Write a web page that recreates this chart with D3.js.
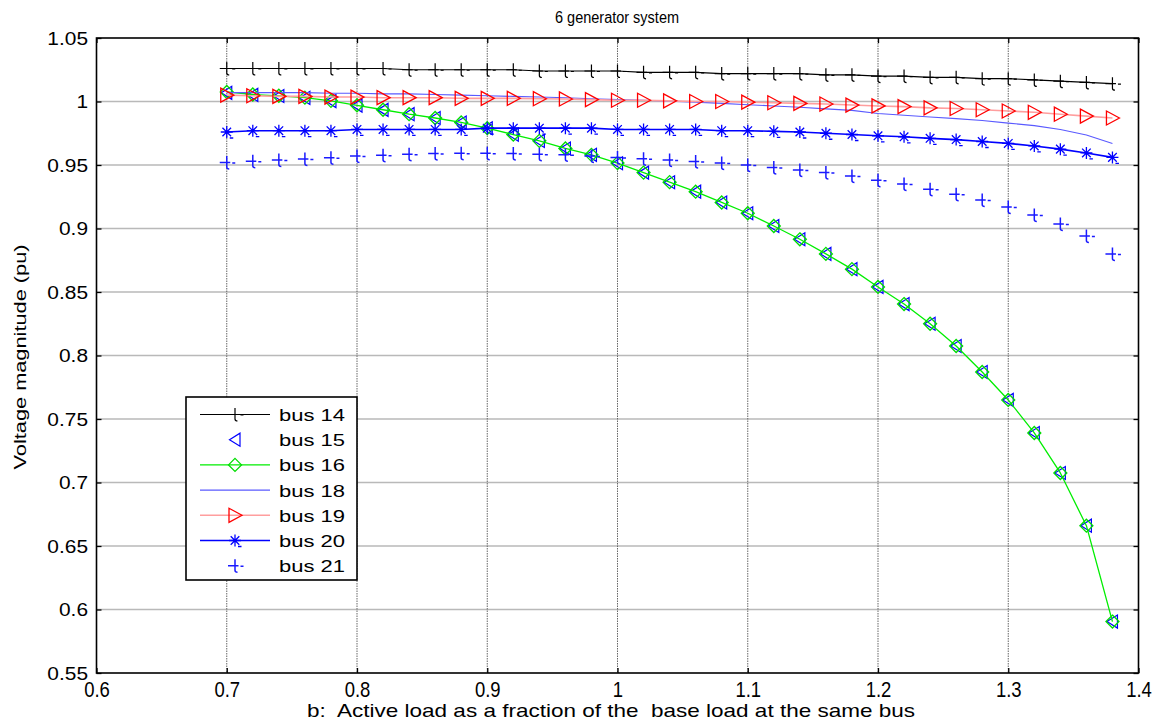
<!DOCTYPE html>
<html>
<head>
<meta charset="utf-8">
<script src="https://cdn.jsdelivr.net/npm/d3@7"></script>
<style>
  body { margin: 0; background: #fff; }
  svg { display: block; font-family: Arial, "Liberation Sans", Helvetica, sans-serif; }
</style>
</head>
<body>
<svg id="chart" width="1163" height="723"></svg>
<script>
// Load level b (fraction of base load) at which each bus voltage was computed
const loadFactor = [0.70, 0.72, 0.74, 0.76, 0.78, 0.80, 0.82, 0.84, 0.86, 0.88,
                    0.90, 0.92, 0.94, 0.96, 0.98, 1.00, 1.02, 1.04, 1.06, 1.08,
                    1.10, 1.12, 1.14, 1.16, 1.18, 1.20, 1.22, 1.24, 1.26, 1.28,
                    1.30, 1.32, 1.34, 1.36, 1.38];

// Voltage magnitude (pu) per bus
const bus14 = [1.026, 1.026, 1.026, 1.026, 1.026, 1.026, 1.026, 1.025, 1.025, 1.025,
               1.025, 1.025, 1.024, 1.024, 1.024, 1.024, 1.023, 1.023, 1.023, 1.022,
               1.022, 1.022, 1.022, 1.021, 1.021, 1.020, 1.020, 1.019, 1.019, 1.018,
               1.018, 1.017, 1.016, 1.015, 1.014];
const bus15 = [1.0068, 1.0052, 1.0043, 1.0028, 1.0003, 0.9968, 0.9934, 0.9900, 0.9870, 0.9834,
               0.9789, 0.9739, 0.9689, 0.9630, 0.9580, 0.9514, 0.9440, 0.9364, 0.9290, 0.9205,
               0.9120, 0.9020, 0.8915, 0.8800, 0.8680, 0.8540, 0.8405, 0.8250, 0.8075, 0.7870,
               0.7650, 0.7390, 0.7075, 0.6660, 0.5905];
const bus16 = [1.0075, 1.0055, 1.0045, 1.0030, 1.0005, 0.9970, 0.9935, 0.9900, 0.9870, 0.9835,
               0.9790, 0.9740, 0.9690, 0.9630, 0.9580, 0.9515, 0.9440, 0.9365, 0.9290, 0.9205,
               0.9120, 0.9020, 0.8915, 0.8800, 0.8680, 0.8540, 0.8405, 0.8250, 0.8075, 0.7870,
               0.7650, 0.7390, 0.7075, 0.6660, 0.5905];
const bus18 = [1.0070, 1.0070, 1.0070, 1.0070, 1.0065, 1.0065, 1.0060, 1.0060, 1.0055, 1.0050,
               1.0045, 1.0040, 1.0035, 1.0030, 1.0022, 1.0015, 1.0010, 1.0003, 0.9995, 0.9985,
               0.9975, 0.9965, 0.9955, 0.9942, 0.9930, 0.9905, 0.9892, 0.9878, 0.9865, 0.9850,
               0.9830, 0.9810, 0.9780, 0.9736, 0.9670];
const bus19 = [1.0050, 1.0045, 1.0040, 1.0040, 1.0035, 1.0035, 1.0030, 1.0030, 1.0030, 1.0025,
               1.0025, 1.0025, 1.0022, 1.0020, 1.0015, 1.0010, 1.0010, 1.0005, 1.0000, 1.0000,
               0.9995, 0.9990, 0.9985, 0.9980, 0.9972, 0.9965, 0.9960, 0.9950, 0.9945, 0.9935,
               0.9925, 0.9915, 0.9900, 0.9885, 0.9870];
const bus20 = [0.9760, 0.9770, 0.9770, 0.9770, 0.9770, 0.9780, 0.9780, 0.9780, 0.9780, 0.9780,
               0.9790, 0.9790, 0.9790, 0.9790, 0.9790, 0.9780, 0.9780, 0.9780, 0.9780, 0.9770,
               0.9770, 0.9765, 0.9760, 0.9750, 0.9740, 0.9730, 0.9722, 0.9710, 0.9700, 0.9685,
               0.9670, 0.9650, 0.9625, 0.9595, 0.9560];
const bus21 = [0.9520, 0.9530, 0.9540, 0.9547, 0.9557, 0.9570, 0.9577, 0.9585, 0.9590, 0.9592,
               0.9592, 0.9590, 0.9585, 0.9580, 0.9570, 0.9560, 0.9550, 0.9540, 0.9527, 0.9515,
               0.9500, 0.9480, 0.9460, 0.9440, 0.9413, 0.9380, 0.9350, 0.9310, 0.9270, 0.9224,
               0.9170, 0.9106, 0.9035, 0.8940, 0.8800];

// Axis ticks and labels
const xTicks = [0.6, 0.7, 0.8, 0.9, 1.0, 1.1, 1.2, 1.3, 1.4];
const xTickLabels = ["0.6", "0.7", "0.8", "0.9", "1", "1.1", "1.2", "1.3", "1.4"];
const yTicks = [0.55, 0.6, 0.65, 0.7, 0.75, 0.8, 0.85, 0.9, 0.95, 1.0, 1.05];
const yTickLabels = ["0.55", "0.6", "0.65", "0.7", "0.75", "0.8", "0.85", "0.9", "0.95", "1", "1.05"];

const seriesNames = ["bus 14", "bus 15", "bus 16", "bus 18", "bus 19", "bus 20", "bus 21"];

const titleText = "6 generator system";
const xTitleText = "b:  Active load as a fraction of the  base load at the same bus";
const yTitleText = "Voltage magnitude (pu)";

// ---- layout ----
const svg = d3.select("#chart");
const plot = { left: 96.5, right: 1138.5, top: 38, bottom: 673 };

const x = d3.scaleLinear().domain([0.6, 1.4]).range([plot.left, plot.right]);
const y = d3.scaleLinear().domain([0.55, 1.05]).range([plot.bottom, plot.top]);

// Stretch/condense a text element horizontally while keeping its anchor
function stretch(sel, k) {
  sel.each(function () {
    const w = this.getComputedTextLength();
    d3.select(this).attr("textLength", w * k).attr("lengthAdjust", "spacingAndGlyphs");
  });
}
function fitWidth(sel, w) {
  sel.attr("textLength", w).attr("lengthAdjust", "spacingAndGlyphs");
}

// plot background
svg.append("rect")
  .attr("x", plot.left).attr("y", plot.top)
  .attr("width", plot.right - plot.left).attr("height", plot.bottom - plot.top)
  .attr("fill", "#fff");

// grid
const grid = svg.append("g");
grid.selectAll("line.h")
  .data(yTicks.filter(d => d > 0.56 && d < 1.04))
  .join("line").attr("class", "h")
  .attr("x1", plot.left).attr("x2", plot.right)
  .attr("y1", d => y(d)).attr("y2", d => y(d))
  .attr("stroke", "#b9b9b9").attr("stroke-width", 1.4);
grid.selectAll("line.v")
  .data(xTicks.filter(d => d > 0.61 && d < 1.39))
  .join("line").attr("class", "v")
  .attr("x1", d => x(d)).attr("x2", d => x(d))
  .attr("y1", plot.top).attr("y2", plot.bottom)
  .attr("stroke", "#666").attr("stroke-width", 1).attr("stroke-dasharray", "1.5,1");

// axes with inward ticks on all four sides
const xFmt = d => xTickLabels[xTicks.indexOf(d)];
const yFmt = d => yTickLabels[yTicks.indexOf(d)];

const gxb = svg.append("g").attr("transform", `translate(0,${plot.bottom})`)
  .call(d3.axisBottom(x).tickValues(xTicks).tickFormat(xFmt).tickSize(-5).tickPadding(0));
const gxt = svg.append("g").attr("transform", `translate(0,${plot.top})`)
  .call(d3.axisTop(x).tickValues(xTicks).tickFormat("").tickSize(-5));
const gyl = svg.append("g").attr("transform", `translate(${plot.left},0)`)
  .call(d3.axisLeft(y).tickValues(yTicks).tickFormat(yFmt).tickSize(-5).tickPadding(0));
const gyr = svg.append("g").attr("transform", `translate(${plot.right},0)`)
  .call(d3.axisRight(y).tickValues(yTicks).tickFormat("").tickSize(-5));

[gxb, gxt, gyl, gyr].forEach(g => {
  g.select(".domain").remove();
  g.selectAll(".tick line").attr("stroke", "#000").attr("stroke-width", 1.3);
});

gxb.selectAll(".tick text")
  .attr("y", 24).attr("dy", null)
  .attr("font-size", 22).attr("fill", "#000")
  .attr("font-family", "Arial, 'Liberation Sans', sans-serif");
stretch(gxb.selectAll(".tick text"), 0.84);

gyl.selectAll(".tick text")
  .attr("x", -8.5).attr("dy", "0.36em")
  .attr("font-size", 18).attr("fill", "#000")
  .attr("font-family", "Arial, 'Liberation Sans', sans-serif");
stretch(gyl.selectAll(".tick text"), 1.16);

// plot frame
svg.append("rect")
  .attr("x", plot.left).attr("y", plot.top)
  .attr("width", plot.right - plot.left).attr("height", plot.bottom - plot.top)
  .attr("fill", "none").attr("stroke", "#000").attr("stroke-width", 1.6);

// ---- marker shapes ----
const markerPaths = {
  tee:  "M0,-6.5V4.5Q0,6.5 2.5,6.5M-7,0H3.5M5.5,0.5H8.5",
  star: "M0,-6V6M-6,0H6M-4.3,-4.3L4.3,4.3M-4.3,4.3L4.3,-4.3M3,6H6.5",
  triL: "M-5.5,0L5,-6.5L5,6.5Z",
  triR: "M7,0L-6,-7L-6,7Z",
  diam: "M0,-6.5L6.5,0L0,6.5L-6.5,0Z"
};

const series = [
  { name: seriesNames[0], values: bus14, line: { color: "#000000", width: 1.2 }, marker: "tee",  mColor: "#000000", mWidth: 1.2 },
  { name: seriesNames[1], values: bus15, line: null,                             marker: "triL", mColor: "#0000ff", mWidth: 1.2 },
  { name: seriesNames[2], values: bus16, line: { color: "#00ee00", width: 1.3 }, marker: "diam", mColor: "#00dd00", mWidth: 1.3 },
  { name: seriesNames[3], values: bus18, line: { color: "#5a5aff", width: 1.1 }, marker: null },
  { name: seriesNames[4], values: bus19, line: { color: "#ff9e9e", width: 1.6 }, marker: "triR", mColor: "#ff0000", mWidth: 1.3 },
  { name: seriesNames[5], values: bus20, line: { color: "#0000ff", width: 1.6 }, marker: "star", mColor: "#0000ff", mWidth: 1.3 },
  { name: seriesNames[6], values: bus21, line: null,                             marker: "tee",  mColor: "#1a1aff", mWidth: 1.5 }
];

const lineGen = d3.line().x(d => x(d[0])).y(d => y(d[1]));
const marks = svg.append("g");

series.forEach(s => {
  const pts = loadFactor.map((b, i) => [b, s.values[i]]);
  const g = marks.append("g");
  if (s.line) {
    g.append("path").datum(pts)
      .attr("d", lineGen)
      .attr("fill", "none")
      .attr("stroke", s.line.color)
      .attr("stroke-width", s.line.width)
      .attr("stroke-linejoin", "round");
  }
  if (s.marker) {
    g.selectAll("path.m").data(pts).join("path").attr("class", "m")
      .attr("transform", d => `translate(${x(d[0])},${y(d[1])})`)
      .attr("d", markerPaths[s.marker])
      .attr("fill", "none")
      .attr("stroke", s.mColor)
      .attr("stroke-width", s.mWidth);
  }
});

// ---- legend ----
const legend = svg.append("g").attr("transform", "translate(186,397)");
legend.append("rect")
  .attr("width", 171).attr("height", 183)
  .attr("fill", "#fff").attr("stroke", "#000").attr("stroke-width", 1.6);

series.forEach((s, i) => {
  const ry = 17.5 + i * 25.2;
  const row = legend.append("g").attr("transform", `translate(0,${ry})`);
  if (s.line) {
    row.append("line").attr("x1", 14).attr("x2", 84).attr("y1", 0).attr("y2", 0)
      .attr("stroke", s.line.color).attr("stroke-width", s.line.width);
  }
  if (s.marker) {
    row.append("path").attr("transform", "translate(49,0)")
      .attr("d", markerPaths[s.marker])
      .attr("fill", "none").attr("stroke", s.mColor).attr("stroke-width", s.mWidth);
  }
  const t = row.append("text").attr("x", 93).attr("y", 6.5)
    .attr("font-size", 17).attr("fill", "#000").text(s.name);
  fitWidth(t, 66);
});

// ---- titles ----
const tt = svg.append("text")
  .attr("x", 617).attr("y", 23)
  .attr("text-anchor", "middle").attr("font-size", 16).attr("fill", "#000")
  .text(titleText);
fitWidth(tt, 124);

const xt = svg.append("text")
  .attr("x", 611).attr("y", 717)
  .attr("text-anchor", "middle").attr("font-size", 19).attr("fill", "#000")
  .attr("xml:space", "preserve").style("white-space", "pre")
  .text(xTitleText);
fitWidth(xt, 608);

const yt = svg.append("text")
  .attr("transform", "translate(26,357) rotate(-90)")
  .attr("text-anchor", "middle").attr("font-size", 17).attr("fill", "#000")
  .text(yTitleText);
fitWidth(yt, 225);
</script>
</body>
</html>
